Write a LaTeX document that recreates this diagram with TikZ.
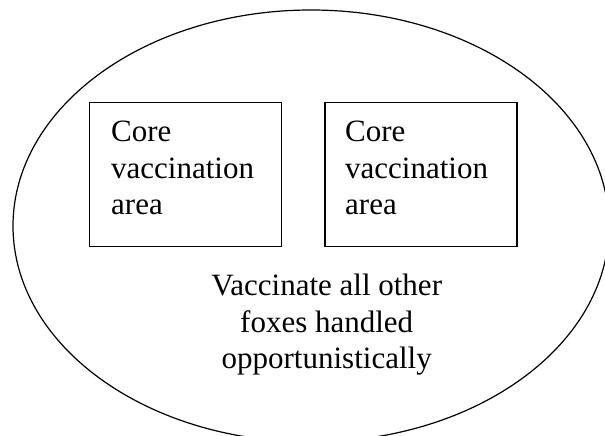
\documentclass[tikz,border=0pt]{standalone}
\usepackage{fontspec}
\setmainfont{Liberation Serif}
\usepackage{tikz}
\usetikzlibrary{positioning}
\tikzset{core box/.style={draw,line width=1.3pt,minimum width=192pt,minimum height=144pt,inner sep=0pt},
 core text/.style={anchor=north west,inner sep=0pt,text width=170pt,align=left,
   font=\fontsize{31}{36.8}\selectfont},
 outer text/.style={anchor=north,inner sep=0pt,align=center,
   font=\fontsize{31}{36.8}\selectfont},
 }

\begin{document}
\begin{tikzpicture}[x=1pt,y=-1pt]
        \useasboundingbox (0,0) rectangle (605,436);
        \clip (0,0) rectangle (605,436);
        \draw[line width=1.2pt] (311,226) ellipse [x radius=298pt, y radius=216pt];
        \node[core box] (leftcore) at (185.6,174.6) {};
        \node[core box] (rightcore) at (421,174.6) {};
        \node[core text] (lefttext) at (111,120.5) {Core\\vaccination\\area};
        \node[core text] (righttext) at (345,120.5) {Core\\vaccination\\area};
        \node[outer text] (othertext) at (326.7,273.5) {Vaccinate all other\\foxes handled\\opportunistically};
    \end{tikzpicture}
\end{document}
